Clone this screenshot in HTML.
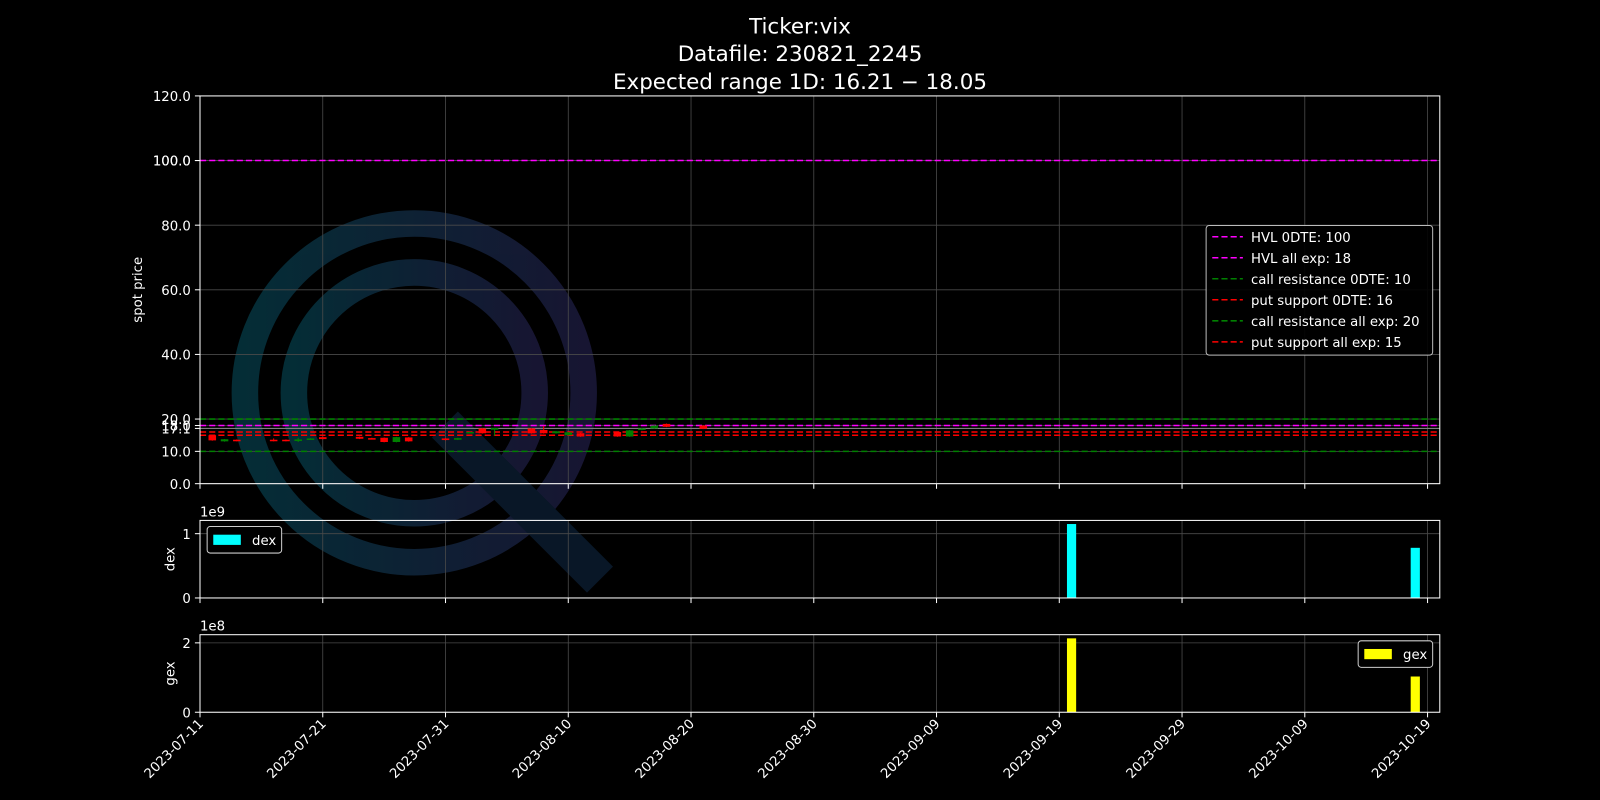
<!DOCTYPE html>
<html><head><meta charset="utf-8"><style>
body{margin:0;background:#000;}
svg{display:block;font-family:"DejaVu Sans","Liberation Sans",sans-serif;}
</style></head><body>
<svg id="chart" width="1600" height="800" viewBox="0 0 1568 784">
<rect width="1568" height="784" fill="#000"/>
<defs>
<linearGradient id="lg" x1="0" y1="0" x2="1" y2="0">
<stop offset="0" stop-color="#05323c"/><stop offset="1" stop-color="#1a1838"/>
</linearGradient>
</defs>
<g id="logo" opacity="0.9">
<circle cx="406" cy="385" r="166" fill="none" stroke="url(#lg)" stroke-width="26"/>
<circle cx="406" cy="385" r="118" fill="none" stroke="url(#lg)" stroke-width="26"/>
<line x1="436" y1="416" x2="588" y2="568" stroke="#0a1a2c" stroke-width="36"/>
</g>
<g font-size="21" fill="#fff" text-anchor="middle">
<text x="784" y="33">Ticker:vix</text>
<text x="784" y="60">Datafile: 230821_2245</text>
<text x="784" y="87">Expected range 1D: 16.21 − 18.05</text>
</g>
<g id="main"></g>
<g id="dex"></g>
<g id="gex"></g>
<g id="xaxis"></g>
</svg>
<script>
const ns='http://www.w3.org/2000/svg';
function mk(p,t,a,txt){const e=document.createElementNS(ns,t);for(const k in a)e.setAttribute(k,a[k]);if(txt!==undefined)e.textContent=txt;p.appendChild(e);return e;}

const xTickLabels=['2023-07-11','2023-07-21','2023-07-31','2023-08-10','2023-08-20','2023-08-30','2023-09-09','2023-09-19','2023-09-29','2023-10-09','2023-10-19'];
const yTicksMain=[0,10,17.1,18,20,40,60,80,100,100,120];
const levelNames=['HVL 0DTE: 100','HVL all exp: 18','call resistance 0DTE: 10','put support 0DTE: 16','call resistance all exp: 20','put support all exp: 15'];
const levelValues=[100,18,10,16,20,15];
const levelColors=['#ff00ff','#ff00ff','#008000','#ff0000','#008000','#ff0000'];
const candleDates=['2023-07-12','2023-07-13','2023-07-14','2023-07-17','2023-07-18','2023-07-19','2023-07-20','2023-07-21','2023-07-24','2023-07-25','2023-07-26','2023-07-27','2023-07-28','2023-07-31','2023-08-01','2023-08-02','2023-08-03','2023-08-04','2023-08-07','2023-08-08','2023-08-09','2023-08-10','2023-08-11','2023-08-14','2023-08-15','2023-08-16','2023-08-17','2023-08-18','2023-08-21'];
const candleOpen =[15.0,13.1,13.6,13.6,13.6,13.2,13.9,14.4,14.5,14.1,14.2,12.9,14.3,14.0,13.6,15.8,17.1,16.7,17.1,16.6,15.6,15.0,15.6,16.0,14.6,16.6,17.1,18.5,18.0];
const candleClose=[13.4,13.75,13.2,13.2,13.2,13.7,14.0,13.8,13.9,13.9,12.9,14.4,13.1,13.5,14.1,16.0,15.6,17.2,15.6,15.6,16.2,15.9,14.6,14.6,16.5,17.1,18.0,17.6,17.0];
const candleLow  =[13.3,13.0,13.1,13.1,13.1,12.9,13.8,13.7,13.8,13.8,12.8,12.8,13.0,13.4,13.5,15.7,15.5,14.8,15.5,15.5,15.5,14.9,14.5,14.5,14.5,16.5,17.0,17.5,16.9];
const candleHigh =[15.1,13.8,13.7,14.0,13.7,14.2,14.1,14.5,14.6,14.2,14.3,14.5,14.4,14.1,14.2,16.1,17.2,17.3,17.2,17.9,16.3,16.0,15.7,16.1,16.6,17.2,18.1,18.6,18.1];
const barDates=['2023-09-20','2023-10-18'];
const dexValues=[1.15,0.78];
const gexValues=[2.13,1.03];

const L=196,R=1411;
const t0=Date.UTC(2023,6,11),DAY=86400000;
function dayOf(s){const [y,m,d]=s.split('-').map(Number);return (Date.UTC(y,m-1,d)-t0)/DAY;}
function x(s){return L+dayOf(s)*12.03;}
const yMain=v=>474-v*(380/120);
const yDex=v=>586-v*63;
const yGex=v=>698-v*34;
const grid='#4a4a4a';

function frame(g,top,bot,name){
  xTickLabels.forEach(t=>{mk(g,'line',{x1:x(t),x2:x(t),y1:top,y2:bot,stroke:grid,'stroke-width':0.8});
    mk(g,'line',{x1:x(t),x2:x(t),y1:bot,y2:bot+5,stroke:'#fff','stroke-width':1});});
  return ()=>{const r=mk(g,'rect',{x:L,y:top,width:R-L,height:bot-top,fill:'none',stroke:'#fff','stroke-width':1});
    };
}
function ytick(g,y,label,grd){
  if(grd)mk(g,'line',{x1:L,x2:R,y1:y,y2:y,stroke:grid,'stroke-width':0.8});
  mk(g,'line',{x1:L-5,x2:L,y1:y,y2:y,stroke:'#fff'});
  const t=mk(g,'text',{x:L-9,y:y+5,'font-size':13,fill:'#fff','text-anchor':'end'},label);
  
}

const gm=document.getElementById('main');

const closeMain=frame(gm,94,474,'price');
yTicksMain.forEach(v=>ytick(gm,yMain(v),v.toFixed(1),true));
mk(gm,'line',{x1:L,x2:R,y1:yMain(17.1),y2:yMain(17.1),stroke:'#888','stroke-width':1});
levelValues.forEach((v,i)=>{
  const l=mk(gm,'line',{x1:L,x2:R,y1:yMain(v),y2:yMain(v),stroke:levelColors[i],'stroke-width':1.5,'stroke-dasharray':'6 3'});
  
});
candleDates.forEach((d,i)=>{
  const up=candleClose[i]>=candleOpen[i];const c=up?'#008000':'#ff0000';const cx=x(d);
  const w=mk(gm,'line',{x1:cx,x2:cx,y1:yMain(candleHigh[i]),y2:yMain(candleLow[i]),stroke:c,'stroke-width':1});
  
  const y1=yMain(Math.max(candleOpen[i],candleClose[i])),y2=yMain(Math.min(candleOpen[i],candleClose[i]));
  const b=mk(gm,'rect',{x:cx-3.7,y:y1,width:7.4,height:Math.max(1.5,y2-y1),fill:c});
  
});
closeMain();
const ylab=mk(gm,'text',{x:139,y:284,'font-size':13,fill:'#fff','text-anchor':'middle',transform:'rotate(-90 139 284)'},'spot price');

const lg=mk(gm,'g',{});

mk(lg,'rect',{x:1182,y:221,width:222,height:127,rx:3,fill:'#000',stroke:'#ccc','stroke-width':1,opacity:0.9});
levelNames.forEach((n,i)=>{
  const e=mk(lg,'g',{});
  
  const yy=232+i*20.6;
  mk(e,'line',{x1:1188,x2:1218,y1:yy,y2:yy,stroke:levelColors[i],'stroke-width':1.5,'stroke-dasharray':'6 3'});
  mk(e,'text',{x:1226,y:yy+5,'font-size':13,fill:'#fff'},n);
});

function sub(id,top,bot,yf,ticks,vals,color,exp,label,legendX){
  const g=document.getElementById(id);
  
  const close=frame(g,top,bot,label);
  ticks.forEach(v=>ytick(g,yf(v),String(v),true));
  barDates.forEach((d,i)=>{
    const y=yf(vals[i]);
    const b=mk(g,'rect',{x:x(d)-4.5,y:y,width:9,height:bot-y,fill:color});
    
  });
  close();
  const e=mk(g,'text',{x:L,y:top-4,'font-size':13,fill:'#fff'},exp);
  
  const t=mk(g,'text',{x:171,y:(top+bot)/2,'font-size':13,fill:'#fff','text-anchor':'middle',transform:`rotate(-90 171 ${(top+bot)/2})`},label);
  
  const lgd=mk(g,'g',{});
  
  mk(lgd,'rect',{x:legendX,y:top+6,width:73,height:26,rx:3,fill:'#000',stroke:'#ccc'});
  mk(lgd,'rect',{x:legendX+6,y:top+14,width:27,height:10,fill:color});
  mk(lgd,'text',{x:legendX+44,y:top+24,'font-size':13,fill:'#fff'},label);
}
sub('dex',510,586,yDex,[0,1],dexValues,'#00ffff','1e9','dex',203);
sub('gex',622,698,yGex,[0,2],gexValues,'#ffff00','1e8','gex',1331);

const gx=document.getElementById('xaxis');

xTickLabels.forEach(t=>{
  const px=x(t)+4,py=710;
  const tx=mk(gx,'text',{x:px,y:py,'font-size':13,fill:'#fff','text-anchor':'end',transform:`rotate(-45 ${px} ${py})`},t);
  
});
</script>
</body></html>
